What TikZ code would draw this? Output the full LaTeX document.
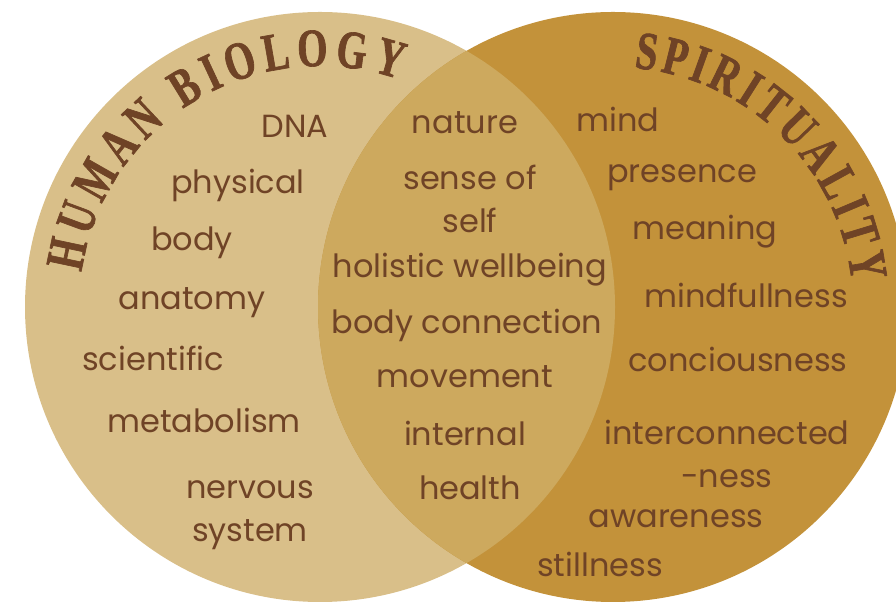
\documentclass[tikz,border=0pt]{standalone}
\usepackage{fontspec}
\setmainfont{Poppins}
\newfontfamily\titlefont{Liberation Serif}[FakeStretch=0.72,FakeBold=1.2]
\definecolor{biolight}{HTML}{D9BF89}
\definecolor{spiritgold}{HTML}{C3923A}
\definecolor{overlapc}{HTML}{CDA95E}
\definecolor{wordbrown}{HTML}{6F4326}

\begin{document}
\begin{tikzpicture}[
  x=1pt,y=1pt,
  word/.style={text=wordbrown,font=\fontsize{32}{43}\selectfont,inner sep=0pt,align=center},
  titlech/.style={text=wordbrown,font=\titlefont\bfseries\fontsize{54}{54}\selectfont,
                  inner sep=0pt,anchor=base}
]
  \useasboundingbox (0,0) rectangle (896,609);

  % circulos
  \coordinate (bio) at (320,302);
  \coordinate (spi) at (613,302);
  \fill[biolight] (bio) circle[radius=295];
  \fill[spiritgold] (spi) circle[radius=295];
  \begin{scope}
    \clip (spi) circle[radius=295];
    \fill[overlapc] (bio) circle[radius=295];
  \end{scope}

  % titulos en arco (una letra por nodo)
  \foreach \a/\l [count=\i] in {168.1/H,159.7/U,150.4/M,141.3/A,133.2/N,121.6/B,
                                115.0/I,108.1/O,99.9/L,91.7/O,82.9/G,74.2/Y}
    \node[titlech,rotate=\a-90] (hb\i) at ([shift={(\a:241)}]bio) {\l};
  \foreach \a/\l [count=\i] in {82.4/S,75.9/P,70.2/I,64.0/R,57.7/I,51.7/T,
                                44.2/U,36.4/A,28.9/L,22.9/I,16.9/T,9.3/Y}
    \node[titlech,rotate=\a-90] (sp\i) at ([shift={(\a:240)}]spi) {\l};

  % biologia
  \node[word] (dna)   at (295,483) {DNA};
  \node[word] (phys)  at (238,424) {physical};
  \node[word] (body)  at (192,366) {body};
  \node[word] (anat)  at (192,306) {anatomy};
  \node[word] (sci)   at (153,251) {scientific};
  \node[word] (meta)  at (204,189) {metabolism};
  \node[word] (nerv)  at (250,94)  {nervous\\system};

  % interseccion
  \node[word] (nat)   at (465,486) {nature};
  \node[word] (self)  at (470,410) {sense of\\self};
  \node[word] (holi)  at (470,339) {holistic wellbeing};
  \node[word] (bconn) at (467,284) {body connection};
  \node[word] (move)  at (465,232) {movement};
  \node[word] (intl)  at (465,176) {internal};
  \node[word] (hlth)  at (470,121) {health};

  % espiritualidad
  \node[word] (mind)  at (618,490) {mind};
  \node[word] (pres)  at (682,431) {presence};
  \node[word] (mean)  at (705,377) {meaning};
  \node[word] (mfull) at (746,314) {mindfullness};
  \node[word] (consc) at (738,250) {conciousness};
  \node[word] (inter) at (727,155) {interconnected\\-ness};
  \node[word] (aware) at (676,90)  {awareness};
  \node[word] (still) at (600,45)  {stillness};
\end{tikzpicture}
\end{document}
